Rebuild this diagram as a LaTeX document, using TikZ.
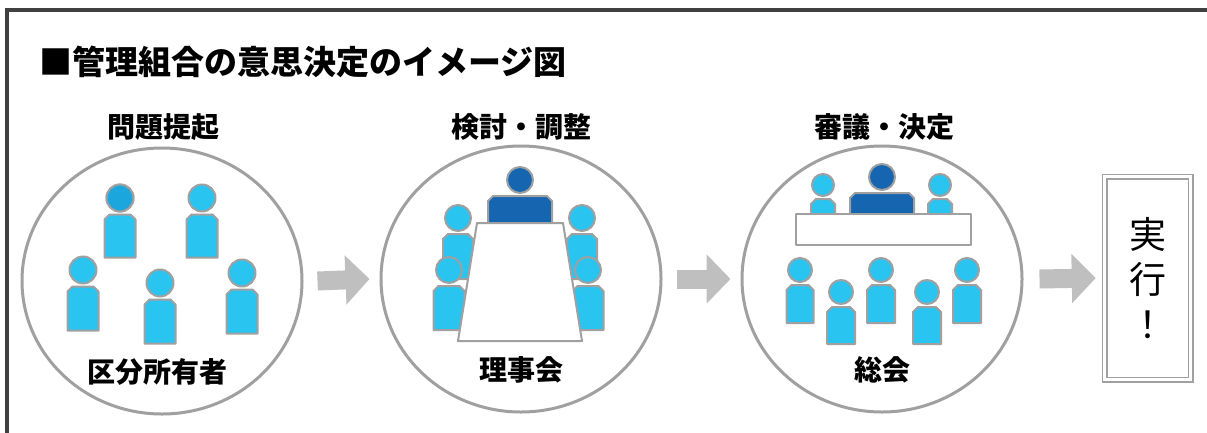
\documentclass[tikz,border=0pt]{standalone}
\usepackage{fontspec}
\newfontfamily\jp{Noto Sans CJK JP}
\usetikzlibrary{shapes.geometric,arrows.meta}

\definecolor{seat}{RGB}{41,196,240}
\definecolor{seatdark}{RGB}{28,166,222}
\definecolor{chair}{RGB}{21,101,176}
\definecolor{rim}{RGB}{160,160,160}
\definecolor{flow}{RGB}{190,191,190}
\definecolor{frame}{RGB}{64,64,64}

\tikzset{
  body/.style={draw=rim, line width=2pt, line join=round},
  stage/.style={ellipse, draw=rim, line width=3pt, fill=white,
    minimum width=280pt, minimum height=266pt, inner sep=0pt},
  heading/.style={font=\jp\bfseries\fontsize{28}{30}\selectfont},
  flowline/.style={draw=flow, line width=19pt,
    -{Triangle[width=48pt, length=24pt]}},
  execbox/.style={draw=rim, line width=1.5pt, double=white, double distance=3pt,
    minimum width=86pt, minimum height=203pt, align=center,
    font=\jp\fontsize{37}{45}\selectfont},
}

% person: #1 fill, #2 x, #3 head y, #4 head radius, #5 body width, #6 body height
\newcommand{\member}[6][seat]{%
  \filldraw[body, fill=#1] (#2-#5/2,#3+#4+3+#6) -- (#2-#5/2,#3+#4+8)
    -- (#2-#5/2+5,#3+#4+3) -- (#2+#5/2-5,#3+#4+3) -- (#2+#5/2,#3+#4+8)
    -- (#2+#5/2,#3+#4+3+#6) -- cycle;
  \filldraw[body, fill=#1] (#2,#3) circle (#4);
}

\begin{document}
\begin{tikzpicture}[x=1pt, y=-1pt]
  \useasboundingbox (0,0) rectangle (1207,432);

  % outer frame
  \draw[frame, line width=4pt] (1215,10) -- (7,10) -- (7,440);

  % title
  \node[anchor=west, font=\jp\bfseries\fontsize{33}{35}\selectfont] (title) at (36,62)
    {■管理組合の意思決定のイメージ図};

  % stages
  \node[stage] (owners)   at (162,281) {};
  \node[stage] (board)    at (521,279) {};
  \node[stage] (assembly) at (882,279) {};
  \node[execbox] (exec) at (1147.5,278) {実\\行\\！};

  \node[heading] (h1) at (163,127) {問題提起};
  \node[heading] (h2) at (521,127) {検討・調整};
  \node[heading] (h3) at (884,127) {審議・決定};

  % flow
  \draw[flowline] ([xshift=14pt]owners.east) -- ([xshift=-10pt]board.west);
  \draw[flowline] ([xshift=14pt]board.east) -- ([xshift=-10pt]assembly.west);
  \draw[flowline] ([xshift=16pt]assembly.east) -- ([xshift=-8pt]exec.west);

  % owners
  \member{120}{198}{13.5}{31}{43}
  \filldraw[body, fill=seatdark] (120,198) circle (13.5);
  \member{202}{198}{13.5}{31}{43}
  \member{83}{270}{13.5}{31}{44}
  \member{160}{283}{13.5}{31}{44}
  \member{242}{273}{13.5}{31}{44}
  \node[heading] (l1) at (157,372) {区分所有者};

  % board meeting
  \member[chair]{520}{180}{13}{64}{34}
  \member{458}{218}{13}{30}{45}
  \member{582}{218}{13}{30}{45}
  \member{449}{270}{13}{31}{44}
  \member{588}{270}{13}{31}{44}
  \filldraw[body, fill=white] (477,223) -- (563,223) -- (582,341) -- (458,341) -- cycle;
  \node[heading] (l2) at (521,370) {理事会};

  % general assembly
  \member[chair]{882}{177}{13}{64}{26}
  \member{823}{185}{11}{24}{18}
  \member{940}{185}{11}{24}{18}
  \filldraw[body, fill=white] (796,214) rectangle (971,245);
  \member{800}{270}{12}{27}{38}
  \member{841}{292}{12}{28}{37}
  \member{881}{270}{12}{28}{38}
  \member{927}{292}{12}{28}{37}
  \member{967}{270}{12}{28}{38}
  \node[heading] (l3) at (882,370) {総会};
\end{tikzpicture}
\end{document}
